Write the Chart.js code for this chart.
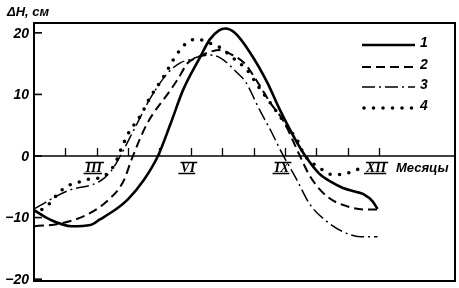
<!DOCTYPE html>
<html>
<head>
<meta charset="utf-8">
<script src="https://cdn.jsdelivr.net/npm/chart.js@4/dist/chart.umd.min.js"></script>
<style>
  body { margin: 0; background: #fff; }
  canvas { display: block; }
</style>
</head>
<body>
<canvas id="chart" width="459" height="288"></canvas>
<script>
// series data: x = month (1 = I ... 12 = XII), y = dH, cm
var months1 = [1, 1.5, 2.2, 2.8, 3.1, 3.6, 4.0, 4.5, 4.95, 5.35, 5.75, 6.3, 6.6, 6.9, 7.1, 7.4, 7.9, 8.45, 8.8, 9.35, 9.65, 10.1, 10.5, 10.85, 11.25, 11.5, 11.8, 11.95];
var dh1 = [-8.8, -10.3, -11.4, -11.2, -10.3, -8.7, -7.0, -3.9, 0, 5.2, 10.7, 16.1, 18.9, 20.4, 20.7, 20.0, 16.7, 11.8, 7.9, 2.5, 0, -2.9, -4.3, -5.2, -5.8, -6.2, -7.4, -8.6];

var months2 = [1.03, 1.8, 2.7, 3.4, 3.85, 4.13, 4.6, 5.35, 5.6, 5.9, 6.25, 6.6, 6.95, 7.25, 7.7, 8.15, 8.55, 8.95, 9.45, 9.8, 10.35, 11.0, 11.6, 11.95];
var dh2 = [-11.4, -11.0, -9.5, -7.0, -4.1, -0.3, 5.2, 10.7, 12.6, 15.1, 16.1, 16.9, 17.2, 16.6, 15.1, 11.8, 8.5, 5.7, 0.3, -3.3, -6.6, -8.2, -8.7, -8.7];

var months3 = [1.03, 2.05, 3.1, 3.45, 3.75, 4.25, 4.7, 5.25, 5.65, 6.0, 6.3, 6.6, 6.95, 7.5, 7.75, 8.2, 8.55, 8.9, 9.35, 9.8, 10.35, 10.85, 11.4, 11.95];
var dh3 = [-8.5, -5.7, -4.1, -2.5, 0, 4.9, 9.3, 13.4, 15.1, 15.7, 16.2, 16.4, 15.9, 13.4, 12.0, 7.4, 4.1, 0.5, -3.6, -7.9, -10.7, -12.3, -13.1, -13.1];

var months4 = [1.25, 1.5, 1.75, 2.05, 2.35, 2.7, 3.05, 3.35, 3.6, 3.75, 4.0, 4.4, 4.7, 5.1, 5.45, 5.65, 5.9, 6.2, 6.55, 6.9, 7.35, 7.8, 8.15, 8.55, 9.1, 9.4, 9.6, 9.8, 10.15, 10.5, 10.8, 11.15, 11.5];
var dh4 = [-8.7, -7.7, -6.2, -4.9, -4.4, -3.8, -3.6, -2.8, -1.1, 0.8, 3.6, 6.6, 9.5, 12.6, 15.7, 17.2, 18.5, 19.0, 18.4, 17.7, 15.9, 13.9, 11.3, 8.5, 4.6, 2.5, 0.3, -0.8, -2.1, -3.0, -3.0, -2.5, -1.8];

var seriesNames = ["1", "2", "3", "4"];
var yTicks = [-20, -10, 0, 10, 20];
var yTickLabels = ["\u221220", "\u221210", "0", "10", "20"];
var monthTicks = [2, 3, 4, 5, 6, 7, 8, 9, 10, 11, 12];
var labelMonths = [3, 6, 9, 12];
var monthLabels = ["III", "VI", "IX", "XII"];
var yTitle = "\u0394H, \u0441\u043c";
var xTitle = "\u041c\u0435\u0441\u044f\u0446\u044b";

function pts(xs, ys) {
    var out = [];
    for (var i = 0; i < xs.length; i++) out.push({x: xs[i], y: ys[i]});
    return out;
}

var styles = [
    {width: 2.6, dash: [], cap: "butt"},
    {width: 2, dash: [9, 5], cap: "butt"},
    {width: 1.5, dash: [13, 4, 2, 4], cap: "butt"},
    {width: 3.6, dash: [0, 9.5], cap: "round"}
];

var serif = "'Liberation Sans', 'DejaVu Sans', sans-serif";

var decor = {
    id: "decor",
    afterDraw: function(chart) {
        var c = chart.ctx, a = chart.chartArea;
        var xs = chart.scales.x, ys = chart.scales.y;
        var y0 = ys.getPixelForValue(0);
        c.save();
        c.strokeStyle = "#000";
        c.fillStyle = "#000";
        c.lineCap = "butt";

        // frame
        c.lineWidth = 2;
        c.strokeRect(a.left, a.top, a.right - a.left, a.bottom - a.top);

        // month axis along zero
        c.lineWidth = 1.6;
        c.beginPath();
        c.moveTo(a.left, y0);
        c.lineTo(a.right, y0);
        c.stroke();
        c.lineWidth = 1.3;
        monthTicks.forEach(function(m) {
            var px = Math.round(xs.getPixelForValue(m)) + 0.5;
            c.beginPath();
            c.moveTo(px, y0);
            c.lineTo(px, y0 - 8);
            c.stroke();
        });

        // roman month labels with bars
        c.font = "italic bold 14px 'Liberation Serif', serif";
        c.textAlign = "center";
        c.textBaseline = "middle";
        labelMonths.forEach(function(m, i) {
            var px = xs.getPixelForValue(m) - 3;
            var t = monthLabels[i];
            var w = c.measureText(t).width + 2;
            c.fillText(t, px, y0 + 12);
            c.lineWidth = 1.4;
            c.beginPath();
            c.moveTo(px - w / 2 + 1, y0 + 6.5);
            c.lineTo(px + w / 2 + 1, y0 + 6.5);
            c.moveTo(px - w / 2 - 1, y0 + 17.5);
            c.lineTo(px + w / 2 - 1, y0 + 17.5);
            c.stroke();
        });

        c.font = "italic bold 13px " + serif;
        c.textAlign = "left";
        c.fillText(xTitle, 396, y0 + 12);

        // y ticks inside frame, labels outside
        c.lineWidth = 1.6;
        c.font = "italic bold 14px " + serif;
        c.textAlign = "right";
        yTicks.forEach(function(v, i) {
            var py = ys.getPixelForValue(v);
            c.beginPath();
            c.moveTo(a.left, py);
            c.lineTo(a.left + 8, py);
            c.stroke();
            c.fillText(yTickLabels[i], 29, Math.min(py, 281) + 1);
        });

        c.textAlign = "left";
        c.font = "italic bold 13px " + serif;
        c.fillText(yTitle, 7, 12);

        // legend
        var legY = [45, 67, 87, 108];
        c.font = "italic bold 14px " + serif;
        styles.forEach(function(s, i) {
            c.lineWidth = s.width;
            c.setLineDash(s.dash);
            c.lineCap = s.cap;
            c.beginPath();
            c.moveTo(i == 3 ? 364 : 362, legY[i]);
            c.lineTo(i == 3 ? 418 : 415, legY[i]);
            c.stroke();
            c.setLineDash([]);
            c.lineCap = "butt";
            c.fillText(seriesNames[i], 420, legY[i] - 2);
        });
        c.restore();
    }
};

var series = [pts(months1, dh1), pts(months2, dh2), pts(months3, dh3), pts(months4, dh4)];

var chart = new Chart(document.getElementById("chart"), {
    type: "line",
    data: {
        datasets: series.map(function(d, i) {
            return {
                label: seriesNames[i],
                data: d,
                borderColor: "#000",
                borderWidth: styles[i].width,
                borderDash: styles[i].dash,
                borderCapStyle: styles[i].cap,
                pointRadius: 0,
                fill: false,
                cubicInterpolationMode: "monotone"
            };
        })
    },
    options: {
        responsive: false,
        animation: false,
        layout: {padding: {left: 34, top: 23, right: 4, bottom: 7}},
        plugins: {legend: {display: false}, tooltip: {enabled: false}},
        scales: {
            x: {type: "linear", min: 1, max: 14.42, display: false},
            y: {type: "linear", min: -20.3, max: 21.6, display: false}
        }
    },
    plugins: [decor]
});
</script>
</body>
</html>
